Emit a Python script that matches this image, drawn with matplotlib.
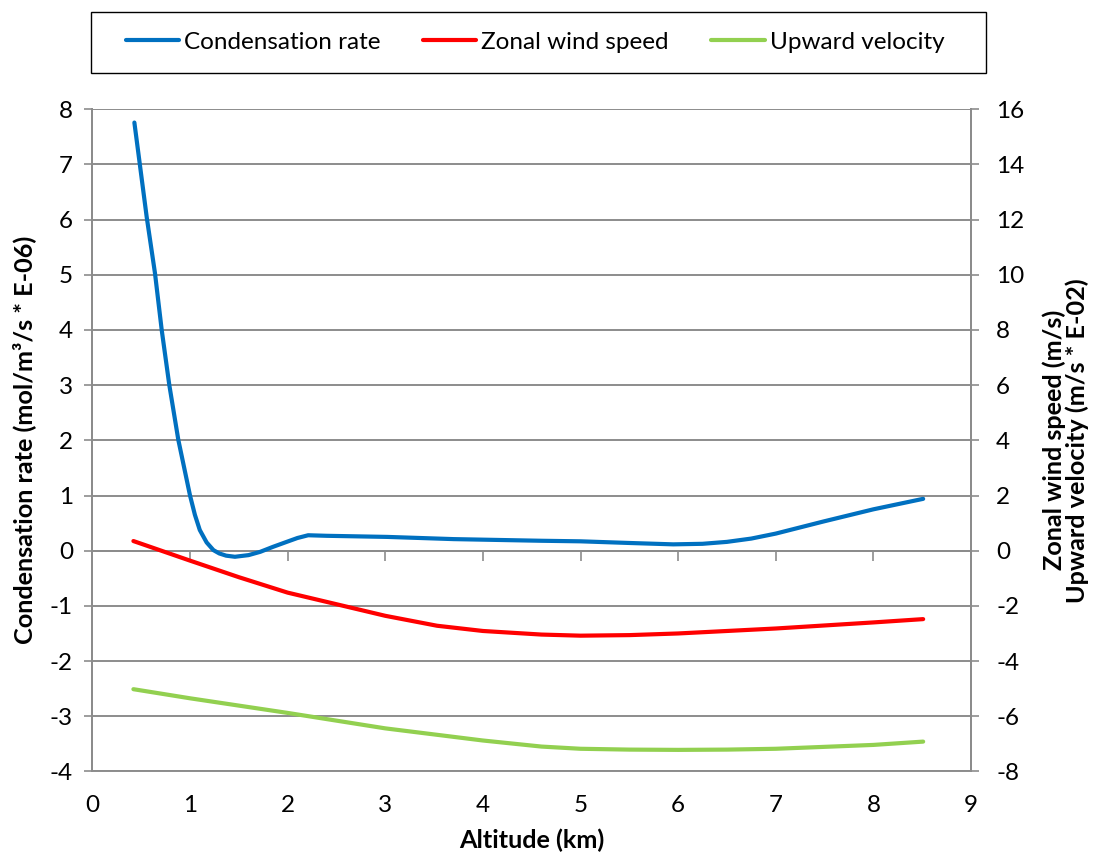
import matplotlib
matplotlib.use("Agg")
import matplotlib.pyplot as plt
from matplotlib.patches import Rectangle

plt.rcParams["font.family"] = ["Lato", "DejaVu Sans"]
plt.rcParams["axes.unicode_minus"] = False

# =========================
# data
# =========================

# condensation rate, left axis (mol/m3/s * E-06)
cond_alt = [0.43, 0.556, 0.641, 0.71, 0.788, 0.88, 1.0, 1.05, 1.10, 1.17, 1.24, 1.30,
            1.37, 1.46, 1.60, 1.72, 1.85, 1.99, 2.10, 2.21, 2.4, 3.02, 3.70, 4.60,
            5.0, 5.5, 5.95, 6.25, 6.50, 6.75, 7.0, 7.49, 8.0, 8.51]
cond_rate = [7.76, 6.05, 5.03, 4.0, 3.0, 2.01, 1.0, 0.65, 0.375, 0.15, 0.01, -0.05,
             -0.09, -0.11, -0.08, -0.02, 0.07, 0.16, 0.23, 0.28, 0.27, 0.25, 0.21, 0.18,
             0.17, 0.14, 0.115, 0.125, 0.16, 0.22, 0.31, 0.53, 0.75, 0.94]

# zonal wind speed, right axis (m/s)
wind_alt = [0.42, 1.0, 1.5, 2.0, 2.5, 3.0, 3.53, 4.0, 4.6, 5.0, 5.5, 6.0, 7.0, 8.0, 8.51]
wind_speed = [0.35, -0.36, -0.96, -1.52, -1.94, -2.36, -2.72, -2.91, -3.04, -3.08,
              -3.06, -3.0, -2.82, -2.6, -2.48]

# upward velocity, right axis (m/s * E-02)
up_alt = [0.42, 1.0, 2.0, 3.0, 4.0, 4.6, 5.0, 5.5, 6.0, 6.5, 7.0, 8.0, 8.51]
up_vel = [-5.02, -5.35, -5.88, -6.44, -6.88, -7.1, -7.18, -7.21, -7.22, -7.21, -7.18,
          -7.04, -6.92]

x_ticks = list(range(0, 10))
left_ticks = list(range(-4, 9))
right_ticks = list(range(-8, 17, 2))

BLUE = "#0070C0"
RED = "#FF0000"
GREEN = "#92D050"
GRID = "#8c8c8c"
FS = 17.5
LFS = 18.2

# =========================
# figure
# =========================

fig = plt.figure(figsize=(10.99, 8.6), dpi=100)
ax = fig.add_axes([92.4 / 1099, 1 - 771.4 / 860, (971 - 92.4) / 1099, (771.4 - 109.3) / 860])
ax2 = ax.twinx()

ax.plot(cond_alt, cond_rate, color=BLUE, lw=3.0, solid_capstyle="round",
        solid_joinstyle="round", zorder=5, label="Condensation rate")
ax2.plot(wind_alt, wind_speed, color=RED, lw=3.0, solid_capstyle="round",
         solid_joinstyle="round", label="Zonal wind speed")
ax2.plot(up_alt, up_vel, color=GREEN, lw=3.0, solid_capstyle="round",
         solid_joinstyle="round", label="Upward velocity")

ax.set_xlim(0, 9)
ax.set_ylim(-4, 8)
ax2.set_ylim(-8, 16)

# gridlines
ax.set_yticks(left_ticks)
ax.yaxis.grid(True, color=GRID, lw=1.4)
ax.set_axisbelow(True)

# left axis
ax.tick_params(axis="y", direction="out", length=6, width=1.2, color=GRID,
               labelsize=FS, pad=8)
ax.set_ylabel("Condensation rate (mol/m³/s * E-06)", fontsize=LFS, fontweight="bold",
              labelpad=10)

# x axis line sits at y=0, labels at the bottom
ax.spines["bottom"].set_position(("data", 0))
ax.set_xticks(x_ticks)
ax.tick_params(axis="x", direction="out", length=7, width=1.2, color=GRID,
               labelbottom=False)
sec = ax.secondary_xaxis("bottom")
sec.set_xticks(x_ticks)
sec.tick_params(axis="x", length=0, labelsize=FS, pad=17)
sec.spines["bottom"].set_color(GRID)
sec.spines["bottom"].set_linewidth(1.4)
sec.set_xlabel("Altitude (km)", fontsize=LFS, fontweight="bold", labelpad=9)

# right axis
ax2.set_yticks(right_ticks)
ax2.tick_params(axis="y", direction="out", length=6, width=1.2, color=GRID,
                labelsize=FS, pad=12)
ax2.set_ylabel("Zonal wind speed (m/s)\nUpward velocity (m/s * E-02)", fontsize=LFS,
               fontweight="bold", labelpad=13, multialignment="center",
               linespacing=1.0)

for a in (ax, ax2):
    a.spines["top"].set_visible(False)
    for s in ("left", "right", "bottom"):
        a.spines[s].set_color(GRID)
        a.spines[s].set_linewidth(1.4)
ax2.spines["bottom"].set_visible(False)

# legend with its own frame across the top
fig.patches.append(Rectangle((91 / 1099, 1 - 73 / 860), (986 - 91) / 1099, 61 / 860,
                             transform=fig.transFigure, fill=False, edgecolor="black",
                             lw=1.0))
handles = ax.get_lines()[:1] + ax2.get_lines()
fig.legend(handles, [h.get_label() for h in handles], loc="center",
           bbox_to_anchor=(535 / 1099, 1 - 42 / 860), ncol=3, frameon=False,
           fontsize=FS, handlelength=2.2, handletextpad=0.2, columnspacing=1.75)

plt.savefig("out.png", dpi=100)
plt.close()
